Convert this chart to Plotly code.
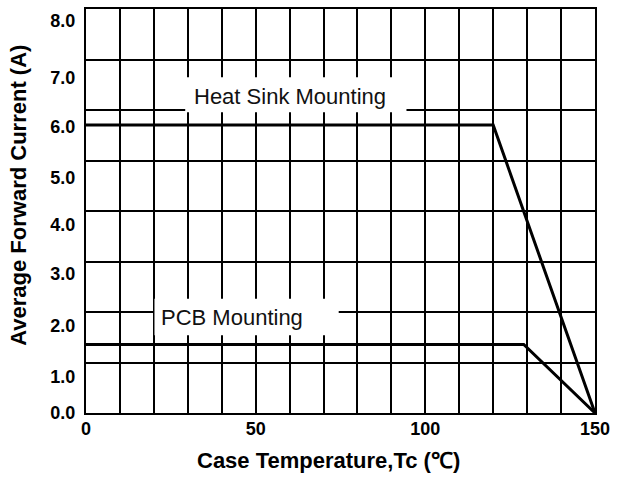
import plotly.graph_objects as go

# ---- data ----
temp_heatsink = [0, 120, 150]
current_heatsink = [6.0, 6.0, 0.0]
temp_pcb = [0, 129, 150]
current_pcb = [1.43, 1.43, 0.0]

x_tick_vals = [0, 50, 100, 150]
x_tick_text = ["0", "50", "100", "150"]
y_tick_text = ["0.0", "1.0", "2.0", "3.0", "4.0", "5.0", "6.0", "7.0", "8.0"]
# where the reference prints its y labels (axis units)
y_label_pos = [0.0, 0.753, 1.826, 2.906, 3.917, 4.904, 5.957, 6.980, 8.178]

Y_MAX = 8.42
FONT = "Liberation Sans, Arial, Helvetica, sans-serif"

fig = go.Figure()
fig.add_trace(go.Scatter(x=temp_heatsink, y=current_heatsink, mode="lines",
                         line=dict(color="black", width=3), showlegend=False,
                         name="Heat Sink Mounting"))
fig.add_trace(go.Scatter(x=temp_pcb, y=current_pcb, mode="lines",
                         line=dict(color="black", width=3), showlegend=False,
                         name="PCB Mounting"))

# white label boxes over the grid
fig.add_shape(type="rect", xref="x", yref="y", x0=29.24, x1=94.44, y0=6.268, y1=6.995,
              fillcolor="white", line=dict(width=0), layer="between")
fig.add_shape(type="rect", xref="x", yref="y", x0=20.18, x1=74.47, y0=1.619, y1=2.381,
              fillcolor="white", line=dict(width=0), layer="between")

fig.add_annotation(x=31.37, y=6.60, xref="x", yref="y", text="Heat Sink Mounting",
                   showarrow=False, xanchor="left", yanchor="middle",
                   font=dict(family=FONT, size=22, color="#111"))
fig.add_annotation(x=21.64, y=2.0, xref="x", yref="y", text="PCB Mounting",
                   showarrow=False, xanchor="left", yanchor="middle",
                   font=dict(family=FONT, size=22, color="#111"))

# axis titles
fig.add_annotation(x=0.4756, y=-0.118, xref="paper", yref="paper",
                   text="Case Temperature,Tc (℃)", showarrow=False,
                   xanchor="center", yanchor="middle",
                   font=dict(family=FONT, size=22, color="black", weight="bold"))
fig.add_annotation(x=-0.1326, y=0.539, xref="paper", yref="paper",
                   text="Average Forward Current (A)", showarrow=False, textangle=-90,
                   xanchor="center", yanchor="middle", borderpad=0,
                   font=dict(family=FONT, size=22, color="black", weight="bold"))

fig.update_xaxes(range=[0, 150], tickmode="array", tickvals=x_tick_vals, ticktext=x_tick_text,
                 showgrid=True, gridcolor="black", gridwidth=2,
                 minor=dict(dtick=10, tick0=0, showgrid=True, gridcolor="black", gridwidth=2),
                 showline=True, linecolor="black", linewidth=2, mirror=True,
                 ticks="", zeroline=False, ticklabelstandoff=-2,
                 tickfont=dict(family=FONT, size=18, color="black", weight="bold"))
fig.update_yaxes(range=[0, Y_MAX], tickmode="array", tickvals=y_label_pos, ticktext=y_tick_text,
                 showgrid=False,
                 minor=dict(dtick=Y_MAX / 8, tick0=0, showgrid=True, gridcolor="black", gridwidth=2),
                 showline=True, linecolor="black", linewidth=2, mirror=True,
                 ticks="", zeroline=False, ticklabelstandoff=5,
                 tickfont=dict(family=FONT, size=18, color="black", weight="bold"))

fig.update_layout(width=617, height=478, margin=dict(l=86, r=18, t=7, b=65),
                  plot_bgcolor="white", paper_bgcolor="white", showlegend=False)

# remove the browser's default 8px body margin so the figure fills the window
fig.write_html("out.html", config={"displayModeBar": False},
               post_script="document.body.style.margin='0';document.body.style.overflow='hidden';")
